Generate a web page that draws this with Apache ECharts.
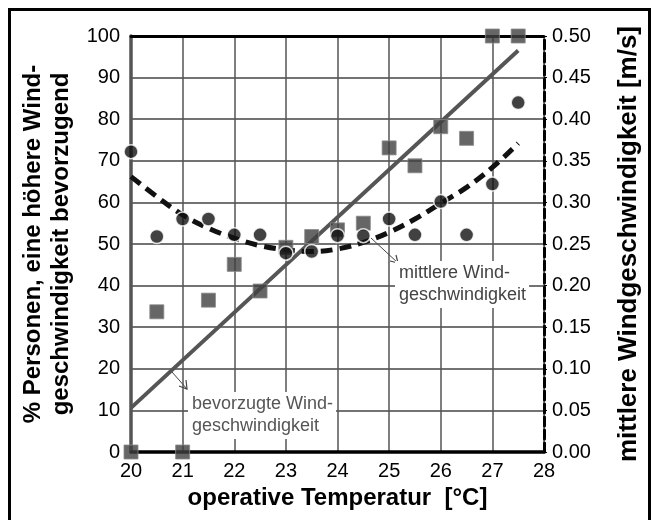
<!DOCTYPE html>
<html>
<head>
<meta charset="utf-8">
<script src="https://cdn.jsdelivr.net/npm/echarts@6/dist/echarts.min.js"></script>
<style>
html,body{margin:0;padding:0;background:#fff;}
#c{width:652px;height:520px;}
</style>
</head>
<body>
<div id="c"></div>
<script>
// Operative temperature [°C]
const temps = [20, 20.5, 21, 21.5, 22, 22.5, 23, 23.5, 24, 24.5, 25, 25.5, 26, 26.5, 27, 27.5];
// % persons preferring higher wind speed (squares, left axis)
const prefPct = [0, 33.7, 0, 36.5, 45.1, 38.7, 49.2, 51.8, 53.4, 55, 73.1, 68.8, 78.2, 75.4, 100, 100];
// mean wind speed [m/s] (circles, right axis)
const meanWind = [0.361, 0.259, 0.28, 0.28, 0.261, 0.261, 0.239, 0.241, 0.26, 0.26, 0.28, 0.261, 0.301, 0.261, 0.322, 0.42];
// linear trend of preferred wind speed (left axis), endpoints
const trendX = [20, 27.5];
const trendPct = [10.6, 96.5];
// fitted curve of mean wind speed (right axis), read at each half degree
const curveWind = [0.331, 0.307, 0.285, 0.269, 0.257, 0.248, 0.243, 0.241, 0.244, 0.252, 0.264, 0.28, 0.299, 0.318, 0.342, 0.371];
// tick labels
const xTicks = [20, 21, 22, 23, 24, 25, 26, 27, 28];

const FONT = '"Liberation Sans", Arial, sans-serif';
const chart = echarts.init(document.getElementById('c'), null, {renderer: 'canvas'});

const pair = (xs, ys) => xs.map((x, i) => [x, ys[i]]);

chart.setOption({
  animation: false,
  backgroundColor: '#fff',
  grid: {left: 131, right: 108, top: 36, bottom: 68, containLabel: false},
  xAxis: [{
    type: 'value', min: xTicks[0], max: xTicks[xTicks.length - 1], interval: 1,
    position: 'bottom',
    name: 'operative Temperatur  [°C]', nameLocation: 'middle', nameGap: 30,
    nameTextStyle: {fontFamily: FONT, fontWeight: 'bold', fontSize: 24, color: '#000'},
    axisLine: {show: true, onZero: false, lineStyle: {color: '#000', width: 3.5}},
    axisTick: {show: false},
    axisLabel: {fontFamily: FONT, fontSize: 20, color: '#000', margin: 9},
    splitLine: {show: true, lineStyle: {color: '#555', width: 1.5}}
  }, {
    type: 'value', min: 20, max: 28, position: 'top',
    axisLine: {show: true, onZero: false, lineStyle: {color: '#000', width: 3}},
    axisTick: {show: false}, axisLabel: {show: false}, splitLine: {show: false}
  }],
  yAxis: [{
    type: 'value', min: 0, max: 100, interval: 10, position: 'left',
    name: '% Personen, eine höhere Wind-\ngeschwindigkeit bevorzugend',
    nameLocation: 'middle', nameGap: 36, nameRotate: 90,
    nameTextStyle: {fontFamily: FONT, fontWeight: 'bold', fontSize: 24, color: '#000', lineHeight: 28},
    axisLine: {show: true, onZero: false, lineStyle: {color: '#555', width: 3.5}},
    axisTick: {show: false},
    axisLabel: {fontFamily: FONT, fontSize: 20, color: '#000', margin: 11},
    splitLine: {show: true, lineStyle: {color: '#444', width: 1.5}}
  }, {
    type: 'value', min: 0, max: 0.5, interval: 0.05, position: 'right',
    name: 'mittlere Windgeschwindigkeit [m/s]',
    nameLocation: 'middle', nameGap: 72, nameRotate: 90,
    nameTextStyle: {fontFamily: FONT, fontWeight: 'bold', fontSize: 26, color: '#000'},
    axisLine: {show: true, onZero: false, lineStyle: {color: '#000', width: 3, type: [9, 4]}},
    axisTick: {show: true, length: 3, lineStyle: {color: '#000', width: 1}},
    axisLabel: {fontFamily: FONT, fontSize: 20, color: '#000', margin: 8,
      formatter: v => v.toFixed(2)},
    splitLine: {show: false}
  }],
  series: [{
    type: 'line', name: 'trend', xAxisIndex: 0, yAxisIndex: 0,
    data: pair(trendX, trendPct), showSymbol: false, symbol: 'none',
    lineStyle: {color: '#555', width: 4}, z: 2, silent: true
  }, {
    type: 'line', name: 'curve', xAxisIndex: 0, yAxisIndex: 1,
    data: pair(temps, curveWind), showSymbol: false, symbol: 'none', smooth: 0.4,
    lineStyle: {color: '#111', width: 5, type: [12, 7]}, z: 3, silent: true
  }, {
    type: 'scatter', name: 'pref', xAxisIndex: 0, yAxisIndex: 0,
    data: pair(temps, prefPct), symbol: 'rect', symbolSize: 14, clip: false,
    itemStyle: {color: '#404040', borderColor: '#8a8a8a', borderWidth: 1}, z: 4
  }, {
    type: 'scatter', name: 'wind', xAxisIndex: 0, yAxisIndex: 1,
    data: pair(temps, meanWind), symbol: 'circle', symbolSize: 14, clip: false,
    itemStyle: {color: '#111', borderColor: '#fff', borderWidth: 1.5}, z: 5
  }],
  graphic: [
    {type: 'rect', shape: {x: 9.5, y: 9.5, width: 640, height: 530},
     style: {fill: 'none', stroke: '#000', lineWidth: 3}, z: 100},
    // annotation 1
    {type: 'line', shape: {x1: 172, y1: 372, x2: 187, y2: 389},
     style: {stroke: '#444', lineWidth: 1}, z: 50},
    {type: 'polyline', shape: {points: [[179, 386], [187, 389], [186, 380]]},
     style: {stroke: '#444', lineWidth: 1.2, fill: 'none'}, z: 50},
    {type: 'text', left: 188, top: 392, z: 50,
     style: {text: 'bevorzugte Wind-\ngeschwindigkeit', font: '18px ' + FONT, fill: '#555',
       lineHeight: 22, backgroundColor: '#fff', padding: [1, 3, 2, 4]}},
    // annotation 2
    {type: 'line', shape: {x1: 371, y1: 238, x2: 398, y2: 263},
     style: {stroke: '#444', lineWidth: 1}, z: 50},
    {type: 'polyline', shape: {points: [[390, 261], [398, 263], [396, 255]]},
     style: {stroke: '#444', lineWidth: 1.2, fill: 'none'}, z: 50},
    {type: 'text', left: 395, top: 261, z: 50,
     style: {text: 'mittlere Wind-\ngeschwindigkeit', font: '18px ' + FONT, fill: '#444',
       lineHeight: 22, backgroundColor: '#fff', padding: [1, 3, 2, 4]}}
  ]
});
</script>
</body>
</html>
